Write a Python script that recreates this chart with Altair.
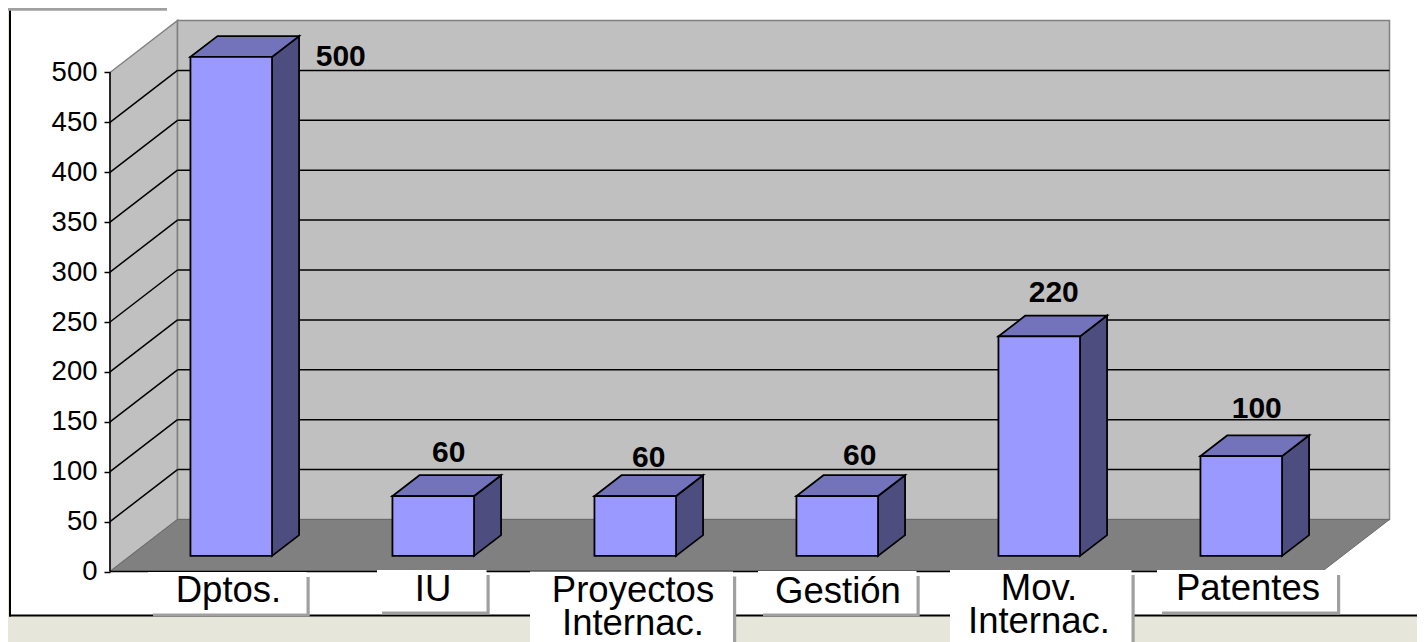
import altair as alt
import pandas as pd

categories = ["Dptos.", "IU", "Proyectos\nInternac.", "Gestión", "Mov.\nInternac.", "Patentes"]
values = [500, 60, 60, 60, 220, 100]
y_ticks = [0, 50, 100, 150, 200, 250, 300, 350, 400, 450, 500]

W, H = 1409, 634
SLOT = 202.0
PXU = 0.998
X0, Y0 = 102.0, 563.5
DX = 67.5 / SLOT
DY = 52.0 / PXU
Y_MAX = y_ticks[-1]
N = len(categories)
BAR_W = 0.404
D0, D1 = 0.30, 0.70
FONT = "Liberation Sans"

x_scale = alt.Scale(domain=[-X0 / SLOT, (W - X0) / SLOT], range=[0, W], nice=False, zero=False)
y_scale = alt.Scale(domain=[-(H - Y0) / PXU, Y0 / PXU], range=[H, 0], nice=False, zero=False)


def X(f="x", **k):
    return alt.X(f"{f}:Q", scale=x_scale, axis=None, **k)


def Y(f="y", **k):
    return alt.Y(f"{f}:Q", scale=y_scale, axis=None, **k)


def px_rect(x0, y0, x1, y1, color):
    """Page furniture, given in page pixels."""
    return alt.Chart().mark_rect(color=color).encode(
        x=alt.value(x0 - 8), x2=alt.value(x1 - 8), y=alt.value(y0 - 8), y2=alt.value(y1 - 8)
    )


# walls and floor -----------------------------------------------------------
back_wall = alt.Chart(pd.DataFrame([{"x": DX, "x2": N + DX, "y": DY, "y2": Y_MAX + DY}])).mark_rect(
    color="#c0c0c0", stroke="#808080", strokeWidth=1.5
).encode(x=X(), x2="x2:Q", y=Y(), y2="y2:Q")

left_wall = alt.Chart(pd.DataFrame([
    {"x": 0, "y": 0, "y2": Y_MAX}, {"x": DX, "y": DY, "y2": Y_MAX + DY}
])).mark_area(color="#c0c0c0", stroke="#808080", strokeWidth=1.5).encode(x=X(), y=Y(), y2="y2:Q")

floor = alt.Chart(pd.DataFrame([
    {"y": 0, "x": 0, "x2": N}, {"y": DY, "x": DX, "x2": N + DX}
])).mark_area(color="#808080", orient="horizontal", stroke="#6a6a6a", strokeWidth=1).encode(
    y=Y(), x=X(), x2="x2:Q"
)

inner = [t for t in y_ticks if 0 < t < Y_MAX]
back_grid = alt.Chart(pd.DataFrame([{"x": DX, "x2": N + DX, "y": t + DY} for t in inner])).mark_rule(
    color="black", strokeWidth=1.5
).encode(x=X(), x2="x2:Q", y=Y())

side_grid = alt.Chart(pd.DataFrame(
    [{"t": t, "x": 0, "y": t} for t in inner] + [{"t": t, "x": DX, "y": t + DY} for t in inner]
)).mark_line(color="black", strokeWidth=1.5).encode(x=X(), y=Y(), detail="t:N")

axis_line = alt.Chart(pd.DataFrame([{"x": 0, "y": 0, "y2": Y_MAX}])).mark_rule(
    color="black", strokeWidth=1.5
).encode(x=X(), y=Y(), y2="y2:Q")

floor_edge = alt.Chart(pd.DataFrame([{"x": 0, "x2": N, "y": 0}])).mark_rule(
    color="black", strokeWidth=1.5
).encode(x=X(), x2="x2:Q", y=Y())

axis_holder = alt.Chart(pd.DataFrame({"y": y_ticks})).mark_point(opacity=0).encode(
    y=alt.Y("y:Q", scale=y_scale, title=None, axis=alt.Axis(
        offset=-X0, values=y_ticks, domain=False, grid=False, tickColor="black", tickSize=6,
        tickWidth=1.5, labelFont=FONT, labelFontSize=27.5, labelColor="black", labelPadding=7,
        zindex=1, title=None,
    ))
)

# bars -----------------------------------------------------------------------
front_rows, side_rows, top_rows, anchor_rows = [], [], [], []
for i, v in enumerate(values):
    left = i + 0.5 - BAR_W / 2 + D0 * DX
    right = left + BAR_W
    base0, base1 = D0 * DY, D1 * DY
    dxb = (D1 - D0) * DX
    front_rows.append({"x": left, "x2": right, "y": base0, "y2": base0 + v})
    side_rows += [
        {"b": i, "x": right, "y": base0, "y2": base0 + v},
        {"b": i, "x": right + dxb, "y": base1, "y2": base1 + v},
    ]
    top_rows += [
        {"b": i, "y": base0 + v, "x": left, "x2": right},
        {"b": i, "y": base1 + v, "x": left + dxb, "x2": right + dxb},
    ]
    anchor_rows.append({"x": (left + right) / 2 + dxb / 2, "y": base1 + v, "t": str(v)})

STROKE = dict(stroke="black", strokeWidth=1.8)
side = alt.Chart(pd.DataFrame(side_rows)).mark_area(color="#4d4d80", **STROKE).encode(
    x=X(), y=Y(), y2="y2:Q", detail="b:N"
)
top = alt.Chart(pd.DataFrame(top_rows)).mark_area(color="#7373bb", orient="horizontal", **STROKE).encode(
    y=Y(), x=X(), x2="x2:Q", detail="b:N"
)
front = alt.Chart(pd.DataFrame(front_rows)).mark_rect(color="#9999ff", **STROKE).encode(
    x=X(), x2="x2:Q", y=Y(), y2="y2:Q"
)

# nudges of each value label from the top of its bar (pixels)
nudges = [(96, 21), (2, -22), (0, -17), (9, -19), (1, -23), (2, -26)]
value_labels = []
for row, (dx, dy) in zip(anchor_rows, nudges):
    value_labels.append(
        alt.Chart(pd.DataFrame([row])).mark_text(
            font=FONT, fontWeight="bold", fontSize=30, color="black", dx=dx, dy=dy, baseline="middle"
        ).encode(x=X(), y=Y(), text="t:N")
    )

# category label boxes (page pixels: left, top, right, bottom)
boxes = [
    (148, 572, 306.5, 613.5), (377, 570, 486.5, 611.5), (530, 571.5, 733, 650),
    (758, 571, 916.5, 613.5), (950, 570, 1131.5, 650), (1157, 570, 1337, 611.5),
]
label_x = [228.5, 433, 633, 838, 1039, 1248]
label_y = [602, 601, 602, 603, 600, 600]

box_layers = []
for (a, b, c, d) in boxes:
    box_layers.append(px_rect(a + 5, b + 5, c + 3.2, d + 3, "#a0a0a0"))
    box_layers.append(px_rect(a, b, c, d, "white"))

cat_labels = []
for name, lx, ly in zip(categories, label_x, label_y):
    cat_labels.append(
        alt.Chart(pd.DataFrame({"t": [name]})).mark_text(
            font=FONT, fontSize=36.5, color="black", baseline="alphabetic", align="center",
            lineBreak="\n", lineHeight=33,
        ).encode(x=alt.value(lx - 8), y=alt.value(ly - 8), text="t:N")
    )

layers = [
    axis_holder,
    px_rect(10, 0, 1440, 615.5, "white"),
    px_rect(9, 10, 11, 616.5, "black"),
    px_rect(9, 614.5, 1440, 616.5, "black"),
    px_rect(0, 8, 167, 10.7, "#a0a0a0"),
    left_wall, back_wall, floor, back_grid, side_grid, axis_line, floor_edge,
    side, top, front,
    *box_layers, *value_labels, *cat_labels,
]

chart = alt.layer(*layers).resolve_axis(y="independent").properties(
    width=W, height=H, background="#e6e6da", padding=0,
    autosize=alt.AutoSizeParams(type="none"),
).configure_view(stroke=None)

chart.save("out.html", embed_options={"renderer": "svg", "actions": False})
